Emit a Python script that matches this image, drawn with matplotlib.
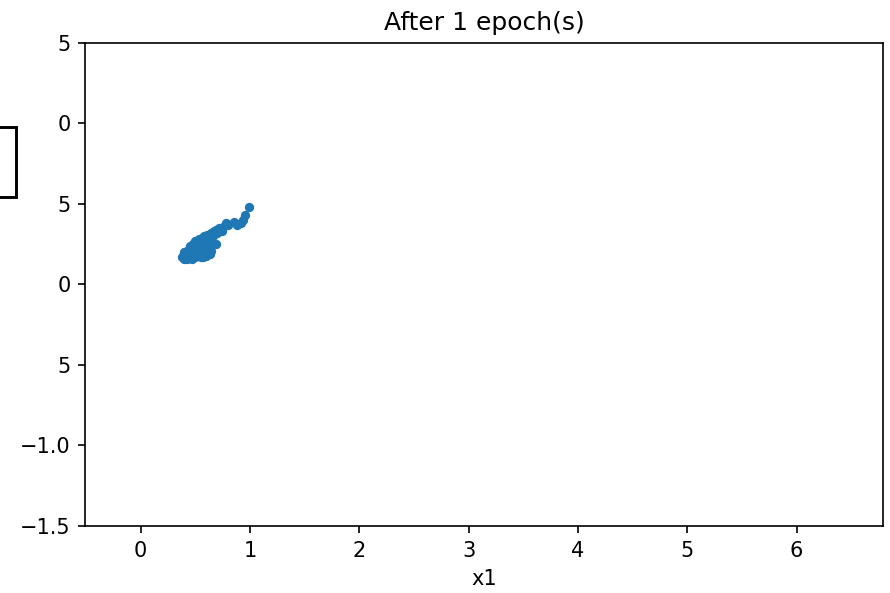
import numpy as np
import matplotlib
matplotlib.use("Agg")
import matplotlib.pyplot as plt
from matplotlib.patches import Rectangle

# Points (x1, x2)
x1 = [0.38, 0.39, 0.40, 0.40, 0.41, 0.42, 0.42, 0.43, 0.44, 0.44, 0.45, 0.45,
      0.46, 0.47, 0.47, 0.48, 0.49, 0.49, 0.50, 0.50, 0.51, 0.52, 0.52, 0.53,
      0.54, 0.54, 0.55, 0.56, 0.56, 0.57, 0.58, 0.58, 0.59, 0.60, 0.60, 0.61,
      0.62, 0.62, 0.63, 0.64, 0.65, 0.66, 0.67, 0.69, 0.70, 0.72, 0.75, 0.78,
      0.80, 0.85, 0.88, 0.92, 0.94, 0.95, 0.99, 0.69, 0.64, 0.57, 0.71, 0.74]
x2 = [0.17, 0.18, 0.16, 0.20, 0.18, 0.21, 0.16, 0.19, 0.22, 0.17, 0.20, 0.24,
      0.18, 0.22, 0.16, 0.25, 0.19, 0.23, 0.17, 0.27, 0.21, 0.24, 0.18, 0.28,
      0.20, 0.25, 0.17, 0.29, 0.22, 0.26, 0.19, 0.30, 0.24, 0.27, 0.18, 0.31,
      0.22, 0.29, 0.19, 0.32, 0.25, 0.30, 0.33, 0.34, 0.32, 0.35, 0.36, 0.38,
      0.37, 0.39, 0.37, 0.38, 0.40, 0.43, 0.48, 0.25, 0.21, 0.17, 0.34, 0.33]

yticks = [1.5, 1.0, 0.5, 0.0, -0.5, -1.0, -1.5]
# the left part of the upper labels is hidden in the source picture
ytick_labels = ['5', '0', '5', '0', '5', '\u22121.0', '\u22121.5']

fig = plt.figure(figsize=(890 / 150, 593 / 150), dpi=150)
ax = fig.add_axes([0.0955, 0.113, 0.8965, 0.8145])
ax.scatter(x1, x2, s=12, color='#1f77b4')
ax.set_xlim(-0.51, 6.79)
ax.set_ylim(-1.5, 1.5)
ax.set_yticks(yticks)
ax.set_yticklabels(ytick_labels)
ax.set_xlabel('x1')
ax.set_title('After 1 epoch(s)')

# box cut off at the left edge
fig.patches.append(Rectangle((-0.05, 0.668), 0.068, 0.118, transform=fig.transFigure,
                             fill=False, edgecolor='black', linewidth=1.4))

fig.savefig('out.png', dpi=150)
